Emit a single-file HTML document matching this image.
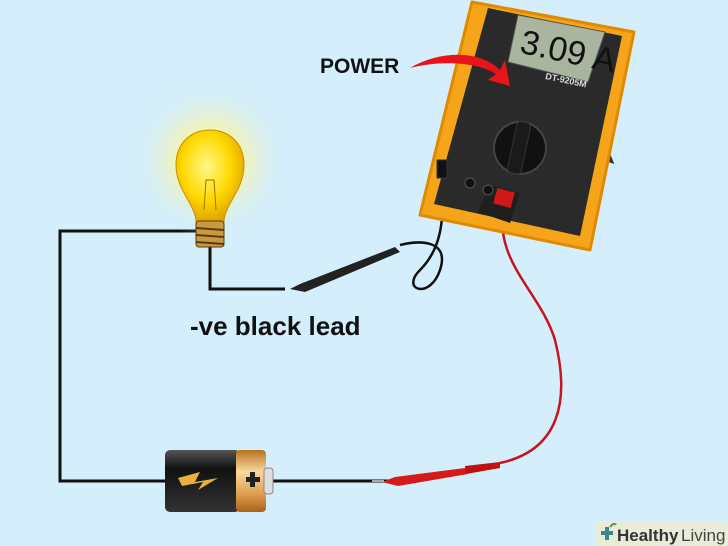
<!DOCTYPE html>
<html><head><style>
html,body{margin:0;padding:0;width:728px;height:546px;overflow:hidden;background:#d4eefb;}
svg{display:block;font-family:"Liberation Sans",sans-serif;}
</style></head><body>
<svg width="728" height="546" viewBox="0 0 728 546">
<defs>
<radialGradient id="glow" cx="0.5" cy="0.5" r="0.5">
<stop offset="0" stop-color="#fffbb0"/><stop offset="0.45" stop-color="#f6f4b0" stop-opacity="0.8"/><stop offset="1" stop-color="#d4eefb" stop-opacity="0"/>
</radialGradient>
<radialGradient id="bulb" cx="0.45" cy="0.4" r="0.6">
<stop offset="0" stop-color="#fff88a"/><stop offset="0.6" stop-color="#ffd800"/><stop offset="1" stop-color="#e0a400"/>
</radialGradient>
<linearGradient id="batd" x1="0" y1="0" x2="0" y2="1">
<stop offset="0" stop-color="#555"/><stop offset="0.3" stop-color="#111"/><stop offset="1" stop-color="#333"/>
</linearGradient>
<linearGradient id="batg" x1="0" y1="0" x2="0" y2="1">
<stop offset="0" stop-color="#b8721c"/><stop offset="0.35" stop-color="#f8d8a0"/><stop offset="0.7" stop-color="#e0a050"/><stop offset="1" stop-color="#a8621a"/>
</linearGradient>
</defs>
<!-- wires -->
<polyline points="198,231 60,231 60,481 168,481" fill="none" stroke="#111" stroke-width="3"/>
<polyline points="210,246 210,289 285,289" fill="none" stroke="#111" stroke-width="3"/>
<line x1="270" y1="481" x2="400" y2="481" stroke="#111" stroke-width="3"/>
<!-- bulb -->
<circle cx="210" cy="160" r="78" fill="url(#glow)"/>
<path d="M196,222 C196,205 176,190 176,165 C176,142 192,130 210,130 C228,130 244,142 244,165 C244,190 224,205 224,222 Z" fill="url(#bulb)" stroke="#c89000" stroke-width="1"/>
<path d="M204,210 L206,180 L214,180 L216,210" fill="none" stroke="#a07000" stroke-width="1"/>
<rect x="196" y="221" width="28" height="26" rx="3" fill="#c89a40" stroke="#5a3a10"/>
<line x1="196" y1="228" x2="224" y2="230" stroke="#5a3a10" stroke-width="2"/>
<line x1="196" y1="235" x2="224" y2="237" stroke="#5a3a10" stroke-width="2"/>
<line x1="196" y1="242" x2="224" y2="244" stroke="#5a3a10" stroke-width="2"/>
<!-- battery -->
<rect x="165" y="450" width="75" height="62" rx="5" fill="url(#batd)"/>
<rect x="236" y="450" width="30" height="62" rx="4" fill="url(#batg)"/>
<rect x="264" y="468" width="9" height="26" rx="3" fill="#ddd" stroke="#888"/>
<polygon points="178,478 200,472 195,482 218,478 198,490 203,482 182,486" fill="#e8b040"/>
<rect x="246" y="477" width="14" height="5" fill="#222"/><rect x="250" y="472" width="5" height="15" fill="#222"/>
<!-- black lead -->
<path d="M445,165 C440,200 450,240 420,270 C400,290 430,300 440,270 C450,240 420,240 400,245" fill="none" stroke="#111" stroke-width="2.5"/>
<path d="M290,289 L300,284 L395,247 L400,252 L305,292 Z" fill="#222"/>
<!-- red lead -->
<path d="M505,200 C490,260 540,290 555,340 C570,400 560,450 500,463" fill="none" stroke="#c8141e" stroke-width="2.5"/>
<path d="M382,482 L395,477 L465,468 L468,474 L398,486 Z" fill="#d61a1a"/>
<path d="M465,466 L500,462 L500,468 L466,474Z" fill="#c01010"/>
<line x1="372" y1="481" x2="384" y2="481" stroke="#aaa" stroke-width="2"/>
<!-- multimeter stand -->
<path d="M590,110 L610,160 L560,145" fill="none" stroke="#333" stroke-width="5"/>
<!-- multimeter -->
<polygon points="472,2 634,32 590,250 420,215" fill="#f6a51a" stroke="#e08a00" stroke-width="3" stroke-linejoin="round"/>
<polygon points="488,8 622,36 580,236 434,204" fill="#2a2a2a"/>
<polygon points="518,15 605,32 588,82 508,62" fill="#aab5a0" stroke="#555"/>
<text x="520" y="60" font-size="34" fill="#111" transform="rotate(12 555 50)" font-family="Liberation Sans Narrow,Liberation Sans,sans-serif">3.09 A</text>
<text x="545" y="82" font-size="9" fill="#ddd" font-weight="bold" transform="rotate(12 560 80)">DT-9205M</text>
<circle cx="520" cy="148" r="26" fill="#111" stroke="#444" stroke-width="2"/>
<rect x="512" y="122" width="14" height="52" rx="4" fill="#1a1a1a" stroke="#333" transform="rotate(12 520 148)"/>
<polygon points="490,185 520,193 510,223 478,212" fill="#1f1f1f"/>
<circle cx="470" cy="183" r="5" fill="#111" stroke="#555"/>
<circle cx="488" cy="190" r="5" fill="#111" stroke="#555"/>
<rect x="495" y="190" width="18" height="16" fill="#d01818" transform="rotate(15 504 198)"/>
<rect x="437" y="160" width="10" height="18" fill="#111" stroke="#333"/>
<!-- power arrow -->
<path d="M410,68 C440,50 480,50 500,70 L505,60 L510,86 L488,80 L496,74 C478,62 440,60 410,68 Z" fill="#e8141a"/>
<text x="320" y="73" font-size="21" font-weight="bold" fill="#111">POWER</text>
<text x="190" y="335" font-size="26" font-weight="bold" fill="#111">-ve black lead</text>
<!-- logo -->
<rect x="595" y="521" width="133" height="25" rx="4" fill="#e8ecd8"/>
<path d="M601,533 h12 M607,527 v13" stroke="#3a8a8a" stroke-width="4"/>
<path d="M610,527 q4,-5 6,-2" stroke="#5a9a40" stroke-width="2" fill="none"/>
<text x="617" y="541" font-size="17" fill="#333" font-weight="bold">Healthy</text><text x="681" y="541" font-size="17" fill="#444">Living</text>
</svg>
</body></html>
